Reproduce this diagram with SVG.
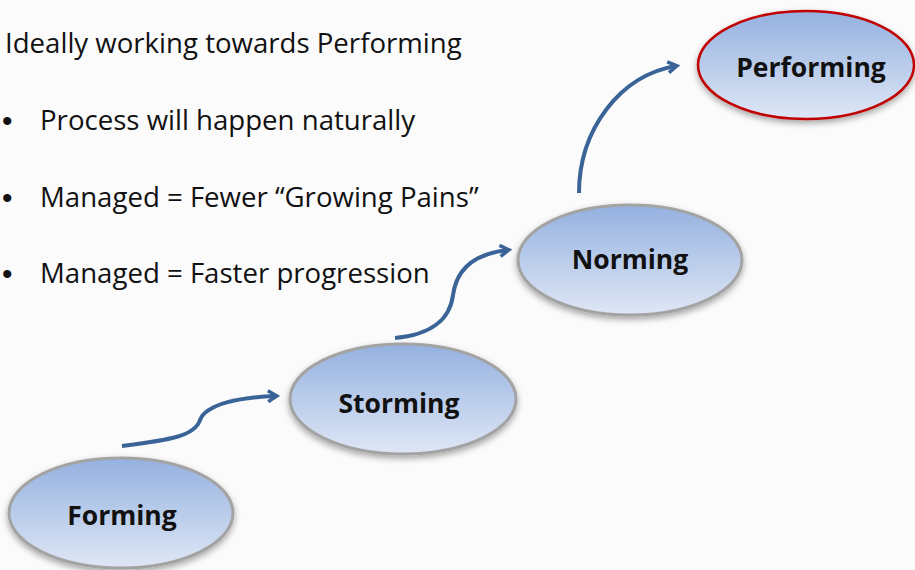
<svg xmlns="http://www.w3.org/2000/svg" width="915" height="570" viewBox="0 0 915 570">
<defs>
<linearGradient id="g" x1="0" y1="0" x2="0" y2="1">
<stop offset="0" stop-color="#94B1E0"/>
<stop offset="1" stop-color="#DFE7F5"/>
</linearGradient>
<filter id="sh" x="-20%" y="-20%" width="140%" height="150%">
<feDropShadow dx="0" dy="3" stdDeviation="3" flood-color="#000" flood-opacity="0.35"/>
</filter>
<marker id="ah" markerWidth="14" markerHeight="14" refX="10" refY="7" orient="auto" markerUnits="userSpaceOnUse">
<polyline points="2,1.5 11,7 2,12.5" fill="none" stroke="#3A6497" stroke-width="3.5" stroke-linejoin="miter"/>
</marker>
</defs>
<style>
.node{fill:url(#g);stroke:#A3A3A3;stroke-width:3;filter:url(#sh)}
.perf{stroke:#C00000;stroke-width:2.5}
.lbl{font-family:"Open Sans","Liberation Sans",sans-serif;font-weight:bold;font-size:26.5px;fill:#111;text-anchor:middle}
.txt{font-family:"Open Sans","Liberation Sans",sans-serif;font-size:27.6px;fill:#111}
.bul{font-family:"Liberation Sans",sans-serif;font-size:30px;fill:#111}
.conn path{fill:none;stroke:#3A6497;stroke-width:4;marker-end:url(#ah)}
</style>
<rect width="915" height="570" fill="#FBFBFC"/>
<g id="text">
<text class="txt" x="5" y="53">Ideally working towards Performing</text>
<text class="bul" x="2" y="131">•</text>
<text class="txt" x="40" y="130">Process will happen naturally</text>
<text class="bul" x="2" y="208">•</text>
<text class="txt" x="40" y="207">Managed = Fewer “Growing Pains”</text>
<text class="bul" x="2" y="284">•</text>
<text class="txt" x="40" y="283">Managed = Faster progression</text>
</g>
<g id="connectors" class="conn">
<path d="M122,446 C170,440 195,436 200,420 C206,404 240,397 276,396"/>
<path d="M395,338 C430,335 450,320 453,295 C457,265 480,253 508,250"/>
<path d="M579,193 C579,130 620,75 676,66"/>
</g>
<g id="forming">
<ellipse class="node" cx="121" cy="513" rx="112" ry="55"/>
<text class="lbl" x="122" y="525">Forming</text>
</g>
<g id="storming">
<ellipse class="node" cx="403" cy="399" rx="113" ry="55"/>
<text class="lbl" x="399" y="413">Storming</text>
</g>
<g id="norming">
<ellipse class="node" cx="630" cy="260" rx="112" ry="55"/>
<text class="lbl" x="630" y="269">Norming</text>
</g>
<g id="performing">
<ellipse class="node perf" cx="806" cy="65" rx="108" ry="54"/>
<text class="lbl" x="811" y="77">Performing</text>
</g>
</svg>
